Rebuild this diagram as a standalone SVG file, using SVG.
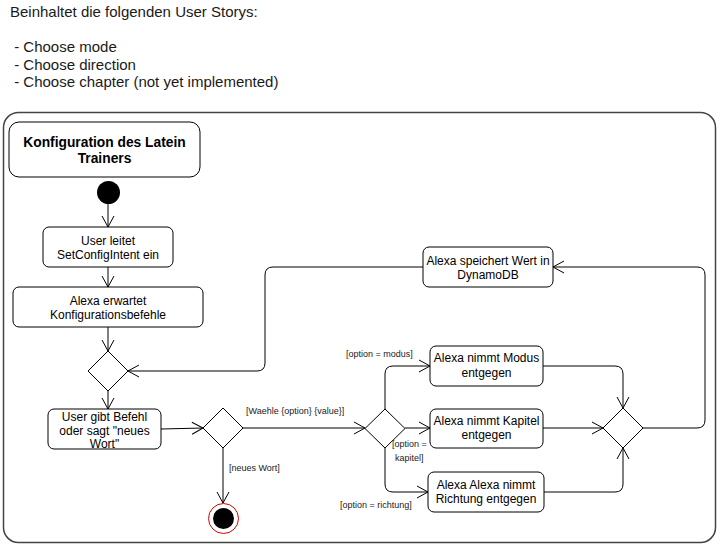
<svg xmlns="http://www.w3.org/2000/svg" width="722" height="549" viewBox="0 0 722 549">
<style>
.t{font-family:"Liberation Sans",Arial,sans-serif;fill:#000}
.h{font-size:15px;fill:#1a1a1a}
.n{font-size:12px;text-anchor:middle}
.b{font-size:13.8px;font-weight:bold;text-anchor:middle}
.l{font-size:9px;fill:#1a1a1a}
.box{fill:#fff;stroke:#000;stroke-width:1}
.dia{fill:#fff;stroke:#000;stroke-width:1}
.c{fill:none;stroke:#000;stroke-width:1;marker-end:url(#ar)}
</style>
<defs>
<marker id="ar" markerUnits="userSpaceOnUse" markerWidth="16" markerHeight="16" viewBox="-13 -8 16 16" refX="0" refY="0" orient="auto">
<path d="M-11,-6 L0,0 L-11,6" fill="none" stroke="#000" stroke-width="1"/>
</marker>
</defs>
<rect width="722" height="549" fill="#fff"/>
<g id="header">
<text class="t h" x="10" y="17">Beinhaltet die folgenden User Storys:</text>
<text class="t h" x="10" y="52" xml:space="preserve"> - Choose mode</text>
<text class="t h" x="10" y="69.5" xml:space="preserve"> - Choose direction</text>
<text class="t h" x="10" y="87" xml:space="preserve"> - Choose chapter (not yet implemented)</text>
</g>
<g id="frame">
<rect x="3.5" y="112.5" width="712" height="430" rx="15" ry="15" fill="none" stroke="#444" stroke-width="1.5"/>
</g>
<g id="connectors">
<path class="c" d="M108,204 L108,227"/>
<path class="c" d="M108,267 L108,287"/>
<path class="c" d="M108,327 L108,351"/>
<path class="c" d="M108,391 L108,409"/>
<path class="c" d="M161,429 L203,428"/>
<path class="c" d="M223,448 L223,503"/>
<path class="c" d="M243,428 L365,428"/>
<path class="c" d="M385,409 L385,374 Q385,366 393,366 L430,366"/>
<path class="c" d="M405,428 L430,428"/>
<path class="c" d="M385,448 L385,484 Q385,492 393,492 L428,492"/>
<path class="c" d="M543,366 L615,366 Q623,366 623,374 L623,408"/>
<path class="c" d="M543,428 L603,428"/>
<path class="c" d="M544,492 L615,492 Q623,492 623,484 L623,448"/>
<path class="c" d="M643,428 L697,428 Q705,428 705,420 L705,275 Q705,267 697,267 L553,267"/>
<path class="c" d="M423,267 L273,267 Q265,267 265,275 L265,363 Q265,371 257,371 L128,371"/>
<text class="t l" x="246" y="414">[Waehle {option} {value}]</text>
<text class="t l" x="229" y="471">[neues Wort]</text>
<text class="t l" x="346" y="357">[option = modus]</text>
<text class="t l" x="392" y="447">[option =</text>
<text class="t l" x="395" y="461">kapitel]</text>
<text class="t l" x="340" y="508">[option = richtung]</text>
</g>
<g id="title">
<rect class="box" x="9" y="122" width="191" height="55" rx="10" ry="10"/>
<text class="t b" x="104.5" y="147">Konfiguration des Latein</text>
<text class="t b" x="104.5" y="163">Trainers</text>
</g>
<g id="start">
<circle cx="108.5" cy="192.5" r="11.5" fill="#000"/>
</g>
<g id="userleitet">
<rect class="box" x="43" y="227" width="130" height="40" rx="6" ry="6"/>
<text class="t n" x="108" y="245">User leitet</text>
<text class="t n" x="108" y="259">SetConfigIntent ein</text>
</g>
<g id="erwartet">
<rect class="box" x="13" y="287" width="190" height="40" rx="6" ry="6"/>
<text class="t n" x="108" y="305">Alexa erwartet</text>
<text class="t n" x="108" y="319">Konfigurationsbefehle</text>
</g>
<g id="merge1">
<polygon class="dia" points="108,351 128,371 108,391 88,371"/>
</g>
<g id="befehl">
<rect class="box" x="48" y="409" width="113" height="40" rx="6" ry="6"/>
<text class="t n" x="104.5" y="421">User gibt Befehl</text>
<text class="t n" x="104.5" y="435">oder sagt "neues</text>
<text class="t n" x="104.5" y="448">Wort"</text>
</g>
<g id="decision1">
<polygon class="dia" points="223,408 243,428 223,448 203,428"/>
</g>
<g id="end">
<circle cx="223.5" cy="518.5" r="15" fill="#fff" stroke="#e00000" stroke-width="1"/>
<circle cx="223.5" cy="518.5" r="10.5" fill="#000"/>
</g>
<g id="decision2">
<polygon class="dia" points="385,409 405,428.5 385,448 365,428.5"/>
</g>
<g id="modus">
<rect class="box" x="430" y="346" width="113" height="40" rx="6" ry="6"/>
<text class="t n" x="486.5" y="362">Alexa nimmt Modus</text>
<text class="t n" x="486.5" y="377">entgegen</text>
</g>
<g id="kapitel">
<rect class="box" x="430" y="409" width="113" height="39" rx="6" ry="6"/>
<text class="t n" x="486.5" y="425">Alexa nimmt Kapitel</text>
<text class="t n" x="486.5" y="439">entgegen</text>
</g>
<g id="richtung">
<rect class="box" x="428" y="472" width="116" height="40" rx="6" ry="6"/>
<text class="t n" x="486" y="489">Alexa Alexa nimmt</text>
<text class="t n" x="486" y="503">Richtung entgegen</text>
</g>
<g id="merge2">
<polygon class="dia" points="623,408 643,428 623,448 603,428"/>
</g>
<g id="dynamo">
<rect class="box" x="423" y="247" width="130" height="40" rx="6" ry="6"/>
<text class="t n" x="488" y="265">Alexa speichert Wert in</text>
<text class="t n" x="488" y="279">DynamoDB</text>
</g>
</svg>
